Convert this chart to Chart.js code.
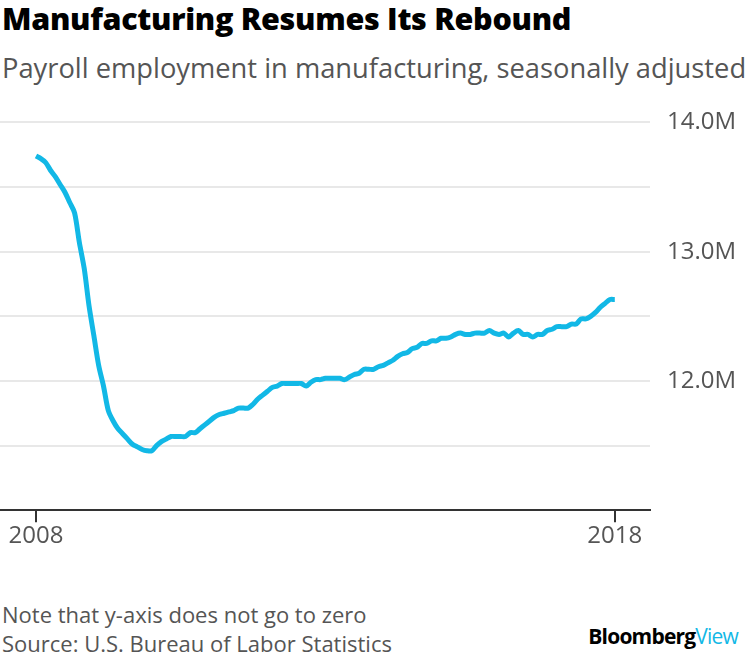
<!DOCTYPE html>
<html>
<head>
<meta charset="utf-8">
<script src="https://cdn.jsdelivr.net/npm/chart.js@4"></script>
<style>
  body { margin: 0; width: 750px; height: 661px; background: #fff; font-family: "Open Sans", sans-serif; position: relative; overflow: hidden; }
  #title { position: absolute; left: 2px; top: -3px; font-size: 30.5px; font-weight: 800; color: #000; letter-spacing: -0.3px; white-space: nowrap; }
  #sub { position: absolute; left: 2px; top: 49px; font-size: 27.3px; color: #555; white-space: nowrap; }
  #wrap { position: absolute; left: 0; top: 91px; width: 750px; height: 460px; }
  #note { position: absolute; left: 2px; top: 600px; font-size: 22px; color: #555; line-height: 29px; white-space: nowrap; }
  #logo { position: absolute; right: 12px; top: 622px; font-size: 21px; font-weight: 700; color: #000; letter-spacing: -0.8px; }
  #logo span { color: #12b8e6; font-weight: 400; }
</style>
</head>
<body>
<div id="title">Manufacturing Resumes Its Rebound</div>
<div id="sub">Payroll employment in manufacturing, seasonally adjusted</div>
<div id="wrap"><canvas id="c"></canvas></div>
<div id="note">Note that y-axis does not go to zero<br>Source: U.S. Bureau of Labor Statistics</div>
<div id="logo">Bloomberg<span>View</span></div>
<script>
// monthly, Jan 2008 .. Jan 2018, millions
const employment = [
  13.74, 13.72, 13.69, 13.63, 13.58, 13.52, 13.46, 13.38, 13.30, 13.07, 12.87, 12.58,
  12.35, 12.12, 11.96, 11.77, 11.69, 11.63, 11.59, 11.55, 11.51, 11.49, 11.47, 11.46,
  11.46, 11.50, 11.53, 11.55, 11.57, 11.57, 11.57, 11.57, 11.60, 11.60, 11.63, 11.66,
  11.69, 11.72, 11.74, 11.75, 11.76, 11.77, 11.79, 11.79, 11.79, 11.82, 11.86, 11.89,
  11.92, 11.95, 11.96, 11.98, 11.98, 11.98, 11.98, 11.98, 11.96, 11.99, 12.01, 12.01,
  12.02, 12.02, 12.02, 12.02, 12.01, 12.03, 12.05, 12.06, 12.09, 12.09, 12.09, 12.11,
  12.12, 12.14, 12.16, 12.19, 12.21, 12.22, 12.25, 12.26, 12.29, 12.29, 12.31, 12.31,
  12.33, 12.33, 12.34, 12.36, 12.37, 12.36, 12.36, 12.37, 12.37, 12.37, 12.39, 12.37,
  12.36, 12.37, 12.34, 12.37, 12.39, 12.36, 12.36, 12.34, 12.36, 12.36, 12.39, 12.40,
  12.42, 12.42, 12.42, 12.44, 12.44, 12.48, 12.48, 12.50, 12.53, 12.57, 12.60, 12.63,
  12.63
];
const yearTicks = [0, 120];
const yearLabels = { 0: '2008', 120: '2018' };
const yLabels = { 14: '14.0M', 13: '13.0M', 12: '12.0M' };

const points = employment.map((v, i) => ({ x: i, y: v }));

new Chart(document.getElementById('c'), {
  type: 'line',
  data: {
    datasets: [{
      data: points,
      borderColor: '#12b8e6',
      borderWidth: 5,
      pointRadius: 0,
      tension: 0.3,
      fill: false
    }]
  },
  options: {
    responsive: true,
    maintainAspectRatio: false,
    animation: false,
    layout: { padding: { top: 13, left: 0, right: 0 } },
    plugins: { legend: { display: false }, tooltip: { enabled: false } },
    scales: {
      x: {
        type: 'linear',
        min: -7.46,
        max: 127.3,
        afterBuildTicks: axis => { axis.ticks = yearTicks.map(v => ({ value: v })); },
        grid: { drawOnChartArea: false, color: '#333', tickLength: 12, lineWidth: 2 },
        border: { display: true, color: '#333', width: 2 },
        ticks: {
          callback: v => yearLabels[v] || '',
          color: '#555',
          font: { family: 'Open Sans', size: 24 },
          padding: 0,
          maxRotation: 0
        }
      },
      y: {
        position: 'right',
        min: 11,
        max: 14,
        afterBuildTicks: axis => { axis.ticks = [11, 11.5, 12, 12.5, 13, 13.5, 14].map(v => ({ value: v })); },
        afterFit: axis => { axis.width = 100; },
        grid: { color: ctx => ctx.tick && ctx.tick.value === 11 ? 'rgba(0,0,0,0)' : '#e8e8e8', lineWidth: 2, drawTicks: false },
        border: { display: false },
        ticks: {
          callback: v => yLabels[v] || '',
          color: '#555',
          font: { family: 'Open Sans', size: 24 },
          padding: 17
        }
      }
    }
  }
});
</script>
</body>
</html>
